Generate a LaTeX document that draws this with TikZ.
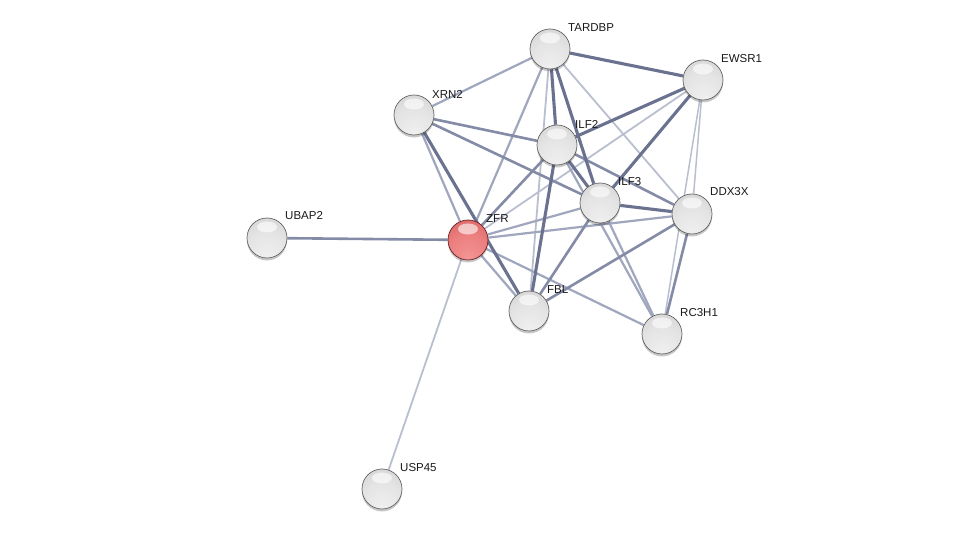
\documentclass[tikz,border=0pt]{standalone}
\usepackage{fontspec}
\setmainfont{Liberation Sans}
\usetikzlibrary{shadows,backgrounds}
\definecolor{gA}{RGB}{240,240,240}
\definecolor{gB}{RGB}{228,228,228}
\definecolor{gC}{RGB}{204,204,204}
\definecolor{gD}{RGB}{140,140,140}
\definecolor{zA}{RGB}{244,150,150}
\definecolor{zB}{RGB}{236,126,126}
\definecolor{zC}{RGB}{212,92,92}
\definecolor{zD}{RGB}{160,50,50}
\definecolor{eA}{RGB}{106,114,144}
\definecolor{eB}{RGB}{132,139,166}
\definecolor{eC}{RGB}{160,166,189}
\definecolor{eD}{RGB}{186,191,208}
\definecolor{gOut}{RGB}{100,100,100}
\definecolor{zOut}{RGB}{105,34,34}
\pgfdeclareradialshading{sphgray}{\pgfpoint{0bp}{-25bp}}{color(0bp)=(gA); color(25bp)=(gB); color(50bp)=(gC); color(75bp)=(gD)}
\pgfdeclareradialshading{sphred}{\pgfpoint{0bp}{-25bp}}{color(0bp)=(zA); color(25bp)=(zB); color(50bp)=(zC); color(75bp)=(zD)}
\tikzset{
  prot/.style={circle, minimum size=40pt, inner sep=0pt, draw=gOut, line width=0.7pt,
    shade, shading=sphgray,
    drop shadow={shadow xshift=0pt, shadow yshift=-2.5pt, opacity=0.22, fill=black},
    path picture={\fill[white,opacity=0.6] ([yshift=11pt]path picture bounding box.center) ellipse (10pt and 5.5pt);}},
  protred/.style={prot, draw=zOut, shading=sphred},
  lab/.style={anchor=west, inner sep=0pt, font=\fontsize{11.5}{13}\selectfont, text={rgb,255:red,25;green,25;blue,25}},
  eone/.style={draw=eA, line width=3.1pt},
  etwo/.style={draw=eB, line width=2.6pt},
  ethree/.style={draw=eC, line width=2.2pt},
  efour/.style={draw=eD, line width=1.8pt},
}
\begin{document}
\begin{tikzpicture}[x=1pt,y=-1pt]
\useasboundingbox (0,0) rectangle (975,534);
% nodes
\node[prot] (tardbp) at (550,49) {};
\node[prot] (ewsr1) at (703,80) {};
\node[prot] (xrn2) at (414,115) {};
\node[prot] (ilf2) at (557,145) {};
\node[prot] (ilf3) at (600,203) {};
\node[prot] (ddx3x) at (692,214) {};
\node[protred] (zfr) at (468,240) {};
\node[prot] (ubap2) at (267,238) {};
\node[prot] (fbl) at (529,311) {};
\node[prot] (rc3h1) at (662,334) {};
\node[prot] (usp45) at (382,489) {};
% labels
\node[lab] (ltardbp) at (568,28) {TARDBP};
\node[lab] (lewsr1) at (721,59) {EWSR1};
\node[lab] (lxrn2) at (432,94) {XRN2};
\node[lab] (lilf2) at (575,124) {ILF2};
\node[lab] (lilf3) at (618,182) {ILF3};
\node[lab] (lddx3x) at (710,192) {DDX3X};
\node[lab] (lzfr) at (486,219) {ZFR};
\node[lab] (lubap2) at (285,216) {UBAP2};
\node[lab] (lfbl) at (547,290) {FBL};
\node[lab] (lrc3h1) at (680,313) {RC3H1};
\node[lab] (lusp45) at (400,468) {USP45};
% edges
\begin{scope}[on background layer]
\fill[white] (0,0) rectangle (975,534);
\draw[efour] (tardbp) -- (fbl);
\draw[efour] (tardbp) -- (ddx3x);
\draw[efour] (ewsr1) -- (zfr);
\draw[efour, line width=1.5pt] (ewsr1) -- (ddx3x);
\draw[efour, line width=1.5pt] (ewsr1) -- (rc3h1);
\draw[efour] (zfr) -- (usp45);
\draw[ethree] (tardbp) -- (xrn2);
\draw[ethree] (tardbp) -- (zfr);
\draw[ethree] (xrn2) -- (zfr);
\draw[ethree] (ilf2) -- (rc3h1);
\draw[ethree] (ilf3) -- (zfr);
\draw[ethree] (ilf3) -- (rc3h1);
\draw[ethree] (ddx3x) -- (zfr);
\draw[ethree] (zfr) -- (fbl);
\draw[ethree] (zfr) -- (rc3h1);
\draw[etwo] (xrn2) -- (ilf2);
\draw[etwo] (xrn2) -- (ilf3);
\draw[etwo] (ilf2) -- (ddx3x);
\draw[etwo] (ilf3) -- (fbl);
\draw[etwo] (ddx3x) -- (fbl);
\draw[etwo] (ddx3x) -- (rc3h1);
\draw[etwo] (zfr) -- (ubap2);
\draw[etwo] (ilf2) -- (zfr);
\draw[eone] (tardbp) -- (ewsr1);
\draw[eone] (tardbp) -- (ilf2);
\draw[eone] (tardbp) -- (ilf3);
\draw[eone] (ewsr1) -- (ilf2);
\draw[eone] (ewsr1) -- (ilf3);
\draw[eone] (xrn2) -- (fbl);
\draw[eone] (ilf2) -- (ilf3);
\draw[eone] (ilf2) -- (fbl);
\draw[eone] (ilf3) -- (ddx3x);
\end{scope}
\end{tikzpicture}
\end{document}
